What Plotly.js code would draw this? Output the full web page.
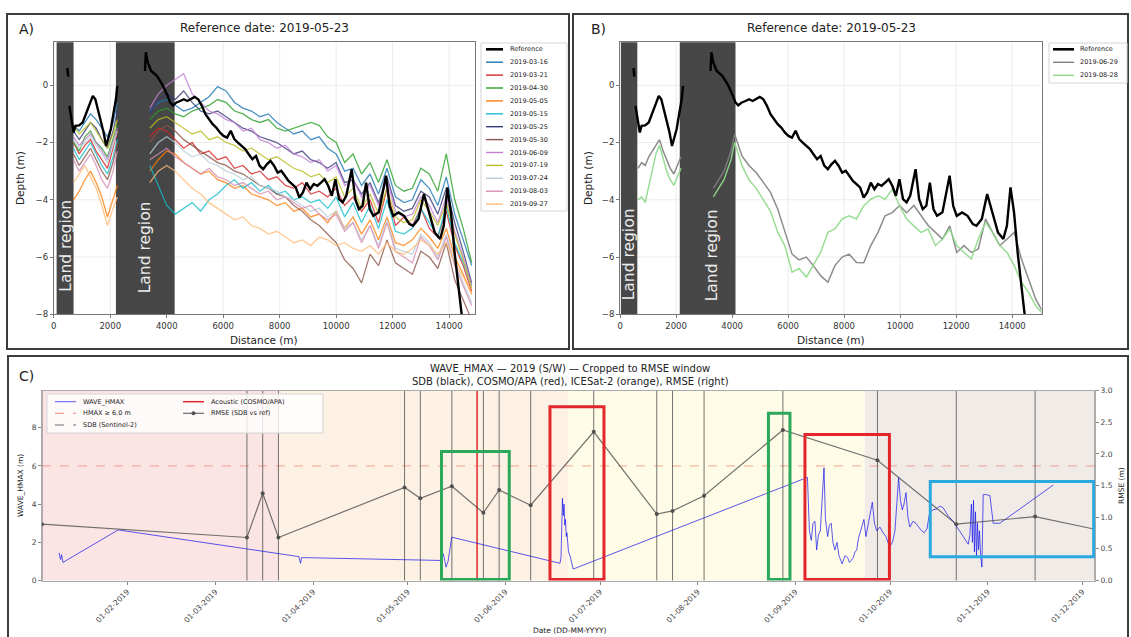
<!DOCTYPE html>
<html><head><meta charset="utf-8">
<script src="https://cdn.plot.ly/plotly-3.0.1.min.js"></script>
<style>html,body{margin:0;padding:0;background:#fff}#chart{width:1131px;height:637px}</style>
</head><body><div id="chart"></div>
<script>
// ---------------- DATA ----------------
const REFERENCE_DATE = '2019-05-23';
// Panel A/B: reference profile (depth vs distance)
const REF_X = [480,510,525,550,640,703,767,895,1023,1151,1279,1381,1471,1560,1663,1765,1854,1918,2020,2110,2200,2250,2600,3230,3260,3330,3450,3650,3840,4030,4118,4220,4348,4476,4604,4731,4859,4987,5115,5243,5371,5499,5627,5754,5882,6010,6138,6266,6394,6522,6650,6777,6905,7033,7161,7289,7417,7545,7673,7800,7928,8056,8184,8312,8440,8568,8696,8824,8951,9079,9207,9335,9463,9591,9719,9847,9974,10102,10230,10358,10550,10678,10806,10934,11061,11189,11317,11509,11765,11893,12020,12212,12404,12596,12724,12916,13107,13299,13491,13683,13811,13939,14066,14194,14322,14450,14514];
const REF_DEPTH = [0.6,0.3,null,-0.72,-1.3,-1.65,-1.42,-1.4,-1.3,-0.95,-0.6,-0.37,-0.49,-0.84,-1.3,-1.65,-2.12,-1.88,-1.53,-1.0,-0.49,-0.02,null,0.5,1.15,0.79,0.5,0.33,0.03,-0.37,-0.6,-0.7,-0.6,-0.55,-0.49,-0.55,-0.47,-0.41,-0.49,-0.72,-1.01,-1.19,-1.36,-1.48,-1.65,-1.77,-1.83,-1.59,-1.88,-2.0,-2.12,-2.23,-2.41,-2.58,-2.47,-2.81,-2.93,-2.76,-2.64,-2.81,-3.05,-2.99,-3.16,-3.34,-3.45,-3.57,-3.92,-3.74,-3.4,-3.63,-3.45,-3.51,-3.4,-3.28,-3.51,-3.86,-3.28,-3.98,-4.09,-3.86,-2.93,-3.98,-4.33,-4.21,-3.4,-4.33,-4.56,-4.44,-3.16,-4.21,-4.56,-4.44,-4.56,-4.85,-4.91,-4.67,-3.8,-4.44,-5.14,-5.37,-4.91,-3.57,-4.44,-5.84,-6.88,-8.0,-8.6];

// Panel A: SDB profiles
const DIST_A = [700,900,1100,1300,1500,1700,1900,2100,2250,2800,3400,3700,4000,4300,4600,4900,5200,5500,5800,6100,6400,6700,7000,7300,7600,7900,8200,8500,8800,9100,9400,9700,10000,10300,10600,10900,11200,11500,11800,12100,12400,12700,13000,13300,13600,13900,14200,14500,14800];
const A_DATES = ['2019-03-16','2019-03-21','2019-04-30','2019-05-05','2019-05-15','2019-05-25','2019-05-30','2019-06-09','2019-07-19','2019-07-24','2019-08-03','2019-09-27'];
const S_0316 = [-1.4,-1.6,-1.3,-1.0,-1.2,-1.5,-1.8,-1.3,-0.6,null,-0.9,-0.6,-0.5,-0.7,-0.9,-0.8,-0.6,-0.4,-0.05,-0.2,-0.6,-0.8,-0.9,-1.1,-1.0,-1.3,-1.5,-1.7,-1.6,-1.9,-1.8,-2.2,-2.4,-3.0,-2.9,-3.5,-3.1,-3.8,-2.9,-3.9,-4.1,-4.0,-3.3,-3.6,-4.2,-3.2,-4.5,-5.4,-6.3];
const S_0321 = [-2.0,-2.4,-2.1,-1.9,-2.3,-2.6,-2.9,-2.2,-1.6,null,-1.8,-1.5,-1.6,-1.9,-2.2,-2.0,-2.4,-2.3,-2.6,-2.5,-2.9,-2.8,-3.1,-3.0,-3.3,-3.2,-3.5,-3.6,-3.4,-3.8,-3.7,-3.9,-3.6,-4.2,-3.9,-4.4,-4.0,-4.8,-3.6,-4.9,-4.6,-4.9,-4.3,-5.0,-5.3,-4.4,-5.6,-6.3,-7.2];
const S_0430 = [-2.0,-2.3,-1.8,-1.6,-2.0,-2.2,-2.5,-1.9,-1.4,null,-1.2,-0.9,-0.8,-1.0,-1.1,-0.9,-0.8,-0.7,-0.5,-0.6,-0.9,-1.0,-1.2,-1.3,-1.2,-1.5,-1.6,-1.5,-1.4,-1.3,-1.4,-1.8,-2.0,-2.7,-2.4,-3.1,-2.7,-3.4,-2.6,-3.5,-3.7,-3.6,-2.9,-3.1,-3.7,-2.4,-4.0,-5.0,-6.2];
const S_0505 = [-4.0,-3.7,-3.3,-3.0,-3.4,-3.9,-4.6,-4.0,-3.5,null,-3.0,-2.6,-2.3,-2.4,-2.7,-2.9,-3.1,-3.0,-3.3,-3.4,-3.6,-3.5,-3.8,-3.9,-4.0,-4.2,-4.1,-4.4,-4.3,-4.6,-4.5,-4.8,-4.4,-5.0,-4.6,-5.2,-4.7,-5.4,-4.6,-5.5,-5.6,-5.4,-5.0,-5.3,-5.7,-5.0,-6.0,-6.6,-7.3];
const S_0515 = [-2.2,-2.6,-2.3,-2.0,-2.4,-2.8,-3.1,-2.5,-1.9,null,-2.8,-3.5,-4.2,-4.5,-4.3,-4.1,-4.4,-4.0,-3.8,-3.5,-3.3,-3.6,-3.4,-3.7,-3.5,-3.8,-3.7,-4.0,-3.9,-4.1,-4.0,-4.3,-3.9,-4.6,-4.1,-4.8,-4.2,-5.0,-4.0,-5.1,-5.2,-5.0,-4.3,-4.8,-5.3,-4.2,-5.5,-6.2,-7.0];
const S_0525 = [-1.6,-1.9,-1.6,-1.3,-1.5,-1.9,-2.2,-1.6,-0.9,null,-1.0,-0.5,-0.3,-0.5,-0.2,-0.6,-0.9,-1.0,-0.9,-1.1,-1.3,-1.5,-1.6,-1.8,-1.9,-2.0,-2.2,-2.4,-2.3,-2.6,-2.7,-2.9,-2.7,-3.4,-3.3,-3.8,-3.4,-4.1,-3.2,-4.2,-4.4,-4.3,-3.7,-3.9,-4.5,-3.6,-4.8,-5.8,-6.9];
const S_0530 = [-2.4,-2.8,-2.5,-2.2,-2.6,-3.0,-3.3,-2.7,-2.0,null,-2.0,-1.6,-1.4,-1.6,-1.9,-2.1,-2.3,-2.5,-2.7,-2.8,-3.0,-3.1,-3.3,-3.5,-3.6,-3.8,-3.9,-4.2,-4.4,-4.7,-4.9,-5.2,-5.5,-6.1,-6.4,-6.9,-5.9,-6.3,-5.4,-6.2,-6.4,-6.6,-5.8,-6.0,-6.4,-5.5,-6.8,-7.5,-8.2];
const S_0609 = [-1.8,-2.1,-1.9,-1.7,-2.0,-2.3,-2.6,-2.0,-1.5,null,-0.8,-0.3,0.0,0.2,0.4,-0.3,-0.6,-0.9,-1.0,-1.2,-1.3,-1.6,-1.5,-1.9,-2.0,-2.2,-2.1,-2.4,-2.5,-2.7,-2.6,-3.0,-2.8,-3.5,-3.3,-3.9,-3.5,-4.2,-3.3,-4.4,-4.6,-4.5,-3.9,-4.2,-4.8,-3.9,-5.1,-6.0,-7.0];
const S_0719 = [-1.4,-1.7,-1.5,-1.3,-1.6,-1.9,-2.2,-1.7,-1.2,null,-1.5,-1.2,-1.1,-1.3,-1.5,-1.7,-1.6,-1.9,-1.8,-2.0,-2.1,-2.3,-2.2,-2.4,-2.6,-2.5,-2.7,-2.9,-3.0,-3.2,-3.1,-3.4,-3.2,-3.9,-3.6,-4.3,-3.8,-4.5,-3.6,-4.6,-4.8,-4.7,-4.0,-4.4,-4.9,-4.1,-5.2,-6.1,-7.1];
const S_0724 = [-1.9,-2.2,-2.0,-1.8,-2.1,-2.4,-2.7,-2.1,-1.6,null,-2.4,-2.0,-1.8,-2.0,-2.3,-2.5,-2.4,-2.7,-2.8,-3.0,-3.1,-3.3,-3.2,-3.5,-3.6,-3.7,-3.9,-4.0,-4.2,-4.4,-4.3,-4.6,-4.4,-5.0,-4.8,-5.4,-4.9,-5.6,-4.7,-5.7,-5.8,-5.9,-5.2,-5.5,-6.0,-5.2,-6.2,-6.9,-7.6];
const S_0803 = [-2.6,-3.0,-2.7,-2.4,-2.8,-3.3,-3.6,-3.0,-2.3,null,-2.6,-2.4,-2.2,-2.5,-2.7,-2.9,-3.1,-2.9,-3.2,-3.3,-3.5,-3.4,-3.6,-3.8,-3.7,-4.0,-3.9,-4.1,-4.3,-4.2,-4.5,-4.7,-4.5,-5.1,-4.8,-5.5,-4.9,-5.7,-4.8,-5.8,-6.0,-6.2,-5.3,-5.6,-6.1,-5.3,-6.3,-7.0,-7.7];
const S_0927 = [-3.4,-3.1,-2.8,-3.2,-3.6,-4.2,-4.9,-4.3,-3.9,null,-3.4,-3.0,-2.8,-3.0,-3.3,-3.6,-3.8,-4.1,-4.3,-4.5,-4.7,-4.6,-4.9,-5.0,-5.2,-5.1,-5.3,-5.5,-5.4,-5.6,-5.3,-5.4,-5.6,-5.5,-5.7,-5.8,-5.6,-5.9,-5.5,-5.8,-5.9,-5.7,-5.4,-5.6,-5.9,-5.5,-6.2,-6.7,-7.3];

// Panel B: two SDB profiles
const DIST_B = [640,767,895,1023,1151,1279,1407,1535,1663,1791,1919,2046,2174,2700,3330,3710,3960,4090,4350,4600,4860,5110,5370,5630,5880,6140,6390,6650,6900,7160,7420,7670,7930,8180,8440,8700,8950,9210,9460,9720,9980,10230,10490,10740,11000,11260,11510,11770,12020,12280,12540,12790,13050,13300,13560,13820,14070,14330,14580,14840,15100];
const B_DATES = ['2019-06-29','2019-08-28'];
const S_0629 = [-2.9,-2.7,-2.8,-2.5,-2.3,-2.1,-1.9,-2.3,-2.6,-2.9,-3.1,-2.8,-2.5,null,-3.6,-3.0,-2.3,-1.7,-2.47,-2.8,-3.05,-3.4,-3.74,-4.33,-5.14,-5.9,-6.1,-6.0,-6.3,-6.65,-6.88,-6.3,-6.0,-5.9,-6.19,-6.2,-5.6,-5.14,-4.56,-4.45,-4.2,-4.45,-4.2,-4.56,-4.9,-5.14,-5.37,-4.91,-5.84,-5.6,-5.84,-5.72,-4.67,-5.14,-5.6,-5.37,-5.14,-6.07,-6.77,-7.47,-7.93];
const S_0828 = [-4.0,-3.9,-4.1,-3.5,-2.9,-2.4,-2.1,-2.6,-3.0,-3.3,-3.5,-3.2,-2.9,null,-3.9,-3.3,-2.6,-2.0,-2.8,-3.3,-3.6,-3.98,-4.4,-5.14,-5.6,-6.53,-6.4,-6.7,-6.3,-5.84,-5.14,-5.02,-4.67,-4.56,-4.67,-4.21,-3.98,-3.86,-3.98,-3.63,-4.21,-4.67,-4.91,-5.14,-5.02,-5.6,-5.37,-5.02,-5.6,-5.84,-6.07,-5.37,-4.79,-5.14,-5.6,-5.84,-6.3,-6.88,-7.23,-7.7,-8.0];

// Land regions (distance ranges)
const LAND_A_START = [100, 2200], LAND_A_END = [700, 4280];
const LAND_B_START = [30, 2130],  LAND_B_END = [615, 4120];
const DIST_TICKS = [0,2000,4000,6000,8000,10000,12000,14000];
const DEPTH_TICKS = [-8,-6,-4,-2,0];

// Panel C: wave height time series
const WAVE_TIME = ['2019-01-10 10:00','2019-01-10 21:00','2019-01-11 05:00','2019-01-11 16:00','2019-01-29 04:00',
'2019-03-27 12:00','2019-03-28 00:00','2019-03-28 08:00',
'2019-05-11 06:00','2019-05-12 07:00','2019-05-13 04:00','2019-05-13 19:00','2019-05-14 23:00',
'2019-06-18 07:00','2019-06-18 15:00','2019-06-19 02:00','2019-06-19 08:00','2019-06-19 14:00','2019-06-19 20:00','2019-06-20 01:00','2019-06-20 07:00','2019-06-20 12:00','2019-06-21 00:00','2019-06-21 11:00','2019-06-22 12:00',
'2019-09-04 19:00','2019-09-05 10:00','2019-09-06 00:00','2019-09-06 13:00','2019-09-07 04:00','2019-09-07 17:00','2019-09-08 07:00','2019-09-08 21:00','2019-09-09 09:00','2019-09-10 01:00',
'2019-09-10 12:00','2019-09-11 05:00','2019-09-11 18:00','2019-09-12 08:00','2019-09-12 21:00','2019-09-13 12:00','2019-09-14 04:00','2019-09-14 19:00','2019-09-15 19:00','2019-09-16 17:00',
'2019-09-17 13:00','2019-09-18 03:00','2019-09-18 17:00','2019-09-19 08:00','2019-09-19 21:00','2019-09-20 10:00','2019-09-20 23:00','2019-09-21 14:00','2019-09-22 04:00','2019-09-22 17:00',
'2019-09-23 08:00','2019-09-24 00:00','2019-09-24 19:00','2019-09-25 09:00','2019-09-26 01:00','2019-09-26 18:00','2019-09-27 19:00','2019-09-28 18:00','2019-09-29 17:00','2019-09-30 20:00',
'2019-10-01 18:00','2019-10-02 13:00','2019-10-03 17:00','2019-10-04 07:00','2019-10-04 21:00','2019-10-05 10:00','2019-10-06 01:00','2019-10-06 16:00','2019-10-07 07:00','2019-10-08 06:00',
'2019-10-09 05:00','2019-10-10 12:00','2019-10-11 19:00','2019-10-12 17:00','2019-10-13 12:00','2019-10-14 14:00','2019-10-15 18:00','2019-10-16 20:00','2019-10-17 21:00','2019-10-19 09:00',
'2019-10-21 01:00','2019-10-22 13:00','2019-10-24 05:00','2019-10-25 19:00','2019-10-26 08:00','2019-10-26 19:00','2019-10-27 03:00','2019-10-27 11:00','2019-10-27 18:00','2019-10-28 02:00',
'2019-10-28 10:00','2019-10-28 17:00','2019-10-29 01:00','2019-10-29 08:00','2019-10-29 18:00','2019-10-30 03:00','2019-10-30 13:00','2019-10-31 10:00','2019-11-01 16:00','2019-11-02 17:00',
'2019-11-04 20:00','2019-11-21 18:00'];
const WAVE_HMAX = [1.45,1.1,1.35,0.95,2.65,
1.25,0.9,1.2,
1.05,1.4,0.7,1.0,2.27,
0.9,1.2,4.3,3.4,4.0,2.9,3.2,2.3,2.5,1.5,1.3,0.6,
5.4,2.6,2.1,3.0,3.1,1.6,2.4,2.6,3.8,5.9,
3.2,2.3,2.9,3.0,2.0,1.6,2.0,1.3,0.87,1.3,
1.2,0.95,1.05,1.2,1.5,1.6,2.2,2.6,3.0,3.2,
2.3,2.9,3.6,4.1,3.0,2.6,2.8,2.5,2.3,1.75,
2.0,2.6,5.4,4.2,3.7,4.0,4.6,3.3,2.8,3.1,
3.0,2.7,2.5,2.7,3.5,3.7,3.75,3.9,3.8,3.4,
3.1,2.7,2.3,1.9,2.4,4.0,2.0,4.2,1.5,3.6,
1.2,3.0,1.6,2.6,1.3,0.7,4.5,4.5,4.45,3.0,
3.0,5.0];
const HMAX_THRESHOLD = 6.0;
// SDB acquisitions and their RMSE vs reference
const RMSE_DATE = ['2019-01-05','2019-03-11','2019-03-16','2019-03-21','2019-04-30','2019-05-05','2019-05-15','2019-05-25','2019-05-30','2019-06-09','2019-06-29','2019-07-19','2019-07-24','2019-08-03','2019-08-28','2019-09-27','2019-10-22','2019-11-16','2019-12-05'];
const RMSE_M = [0.89,0.68,1.38,0.68,1.47,1.30,1.49,1.07,1.43,1.19,2.35,1.05,1.10,1.34,2.38,1.90,0.89,1.01,0.81];
const ACOUSTIC_DATE = ['2019-05-23'];
// Seasons
const SEASON_START = ['2018-12-21','2019-03-21','2019-06-21','2019-09-23'];
const SEASON_END   = ['2019-03-21','2019-06-21','2019-09-23','2019-12-21'];
// Highlight windows
const BOX_START = ['2019-05-11 17:00','2019-06-15 03:00','2019-08-23 10:00','2019-09-04 00:00','2019-10-13 18:00'];
const BOX_END   = ['2019-06-02 05:00','2019-07-02 06:00','2019-08-30 06:00','2019-09-30 19:00','2019-12-04 14:00'];
const BOX_LOW   = [0.05, 0.05, 0.05, 0.05, 1.25];
const BOX_HIGH  = [6.75, 9.10, 8.76, 7.64, 5.18];

// ---------------- STYLE ----------------
const W = 1131, H = 637;
const PX = v => v / W, PY = v => 1 - v / H;
const FONT = 'DejaVu Sans, Arial, sans-serif';
const A_COLORS = ['#1f77b4','#d62728','#2ca02c','#ff7f0e','#17becf','#393b79','#8c564b','#c47fd5','#bcbd22','#b9cfd8','#d68fb4','#ffbb78'];
const B_COLORS = ['#7f7f7f','#8fd98a'];
const SEASON_COLORS = ['#fbe4e4','#fdf1e4','#fefbe6','#f1ebe8'];
const BOX_COLORS = ['#2ca85a','#e3262b','#2ca85a','#e3262b','#2aa9de'];

const traces = [];
const A_SERIES = [S_0316,S_0321,S_0430,S_0505,S_0515,S_0525,S_0530,S_0609,S_0719,S_0724,S_0803,S_0927];
A_SERIES.forEach((s,i)=>traces.push({x:DIST_A,y:s,xaxis:'x',yaxis:'y',mode:'lines',name:A_DATES[i],
  line:{color:A_COLORS[i],width:1.3},opacity:0.8,showlegend:false}));
traces.push({x:REF_X,y:REF_DEPTH,xaxis:'x',yaxis:'y',mode:'lines',name:'Reference',line:{color:'#000',width:2.4},showlegend:false});
[S_0629,S_0828].forEach((s,i)=>traces.push({x:DIST_B,y:s,xaxis:'x2',yaxis:'y2',mode:'lines',name:B_DATES[i],
  line:{color:B_COLORS[i],width:1.5},opacity:0.9,showlegend:false}));
traces.push({x:REF_X,y:REF_DEPTH,xaxis:'x2',yaxis:'y2',mode:'lines',name:'Reference',line:{color:'#000',width:2.4},showlegend:false});
traces.push({x:WAVE_TIME,y:WAVE_HMAX,xaxis:'x3',yaxis:'y3',mode:'lines',name:'WAVE_HMAX',line:{color:'rgba(20,20,235,0.7)',width:1},showlegend:false});
traces.push({x:RMSE_DATE,y:RMSE_M,xaxis:'x3',yaxis:'y4',mode:'lines+markers',name:'RMSE (SDB vs ref)',
  line:{color:'rgba(70,70,70,0.75)',width:1.2},marker:{size:4,color:'#505050'},showlegend:false});

const shapes = [], annotations = [];
// grid for A and B (below the land bands)
[['x','y'],['x2','y2']].forEach(ax=>{
  DIST_TICKS.forEach(t=>shapes.push({type:'line',xref:ax[0],yref:ax[1]+' domain',x0:t,x1:t,y0:0,y1:1,line:{color:'#ececec',width:1},layer:'below'}));
  DEPTH_TICKS.forEach(t=>shapes.push({type:'line',xref:ax[0]+' domain',yref:ax[1],x0:0,x1:1,y0:t,y1:t,line:{color:'#ececec',width:1},layer:'below'}));
});
// land bands
function land(xa, ya, starts, ends){ starts.forEach((s,i)=>shapes.push({type:'rect',xref:xa,yref:ya+' domain',x0:s,x1:ends[i],y0:0,y1:1,fillcolor:'#474747',line:{width:0},layer:'below'})); }
land('x','y',LAND_A_START,LAND_A_END); land('x2','y2',LAND_B_START,LAND_B_END);
// seasons
SEASON_START.forEach((s,i)=>shapes.push({type:'rect',xref:'x3',yref:'y3 domain',x0:s,x1:SEASON_END[i],y0:0,y1:1,fillcolor:SEASON_COLORS[i],line:{width:0},layer:'below'}));
// threshold
shapes.push({type:'line',xref:'x3 domain',yref:'y3',x0:0,x1:1,y0:HMAX_THRESHOLD,y1:HMAX_THRESHOLD,line:{color:'rgba(235,110,90,0.6)',width:1,dash:'dash'},layer:'below'});
// SDB dates
RMSE_DATE.forEach(d=>shapes.push({type:'line',xref:'x3',yref:'y3 domain',x0:d,x1:d,y0:0,y1:1,line:{color:'rgba(70,70,70,0.75)',width:1},layer:'below'}));
ACOUSTIC_DATE.forEach(d=>shapes.push({type:'line',xref:'x3',yref:'y3 domain',x0:d,x1:d,y0:0,y1:1,line:{color:'#e02828',width:1.5},layer:'below'}));
// highlight boxes
BOX_START.forEach((s,i)=>shapes.push({type:'rect',xref:'x3',yref:'y3',x0:s,x1:BOX_END[i],y0:BOX_LOW[i],y1:BOX_HIGH[i],line:{color:BOX_COLORS[i],width:3},fillcolor:'rgba(0,0,0,0)',layer:'above'}));

// panel frames
function frame(x0,y0,x1,y1){ shapes.push({type:'rect',xref:'paper',yref:'paper',x0:PX(x0),x1:PX(x1),y0:PY(y1),y1:PY(y0),line:{color:'#3c3c3c',width:2},fillcolor:'rgba(0,0,0,0)',layer:'above'}); }
frame(7,14,569,349); frame(573,14,1128,349); frame(8,356,1128,650);

function txt(x,y,text,size,extra){ annotations.push(Object.assign({xref:'paper',yref:'paper',x:PX(x),y:PY(y),text:text,showarrow:false,
  font:{size:size,color:'#222',family:FONT},xanchor:'center',yanchor:'middle'},extra||{})); }
function pline(x0,y0,x1,y1,color,width,dash){ shapes.push({type:'line',xref:'paper',yref:'paper',x0:PX(x0),y0:PY(y0),x1:PX(x1),y1:PY(y1),line:{color:color,width:width,dash:dash||'solid'},layer:'above'}); }
function pbox(x0,y0,x1,y1,fill){ shapes.push({type:'rect',xref:'paper',yref:'paper',x0:PX(x0),x1:PX(x1),y0:PY(y1),y1:PY(y0),line:{color:'#d4d4d4',width:1},fillcolor:fill,layer:'above'}); }

// Panel labels and titles
txt(27,29,'A)',14); txt(598,29,'B)',14); txt(26,376,'C)',14);
txt(264,28,'Reference date: '+REFERENCE_DATE,12);
txt(831,28,'Reference date: '+REFERENCE_DATE,12);
txt(264,340,'Distance (m)',10.5); txt(831,340,'Distance (m)',10.5);
txt(20,178,'Depth (m)',10.5,{textangle:-90}); txt(588,178,'Depth (m)',10.5,{textangle:-90});
txt(570,369,'WAVE_HMAX — 2019 (S/W) — Cropped to RMSE window',10);
txt(570,381,'SDB (black), COSMO/APA (red), ICESat-2 (orange), RMSE (right)',10);
txt(20,486,'WAVE_HMAX (m)',7.5,{textangle:-90});
txt(1121,486,'RMSE (m)',7.5,{textangle:-90});
txt(570,630,'Date (DD-MM-YYYY)',7.5);
// Land region labels (data coords)
[['x','y',400,-5.6],['x','y',3240,-5.65],['x2','y2',322,-5.9],['x2','y2',3270,-5.95]].forEach(a=>annotations.push({xref:a[0],yref:a[1],x:a[2],y:a[3],text:'Land region',textangle:-90,showarrow:false,font:{size:15.5,color:'#ececec',family:FONT}}));

// Legend A
pbox(481,43,567,211,'rgba(255,255,255,0.9)');
['Reference'].concat(A_DATES).forEach((n,i)=>{ const y=49.3+12.9*i;
  pline(486,y,503,y,i===0?'#000':A_COLORS[i-1],i===0?2.6:1.4);
  txt(508,y,n,6.5,{xanchor:'left'}); });
// Legend B
pbox(1049,43,1127,83,'rgba(255,255,255,0.9)');
['Reference'].concat(B_DATES).forEach((n,i)=>{ const y=49.3+13*i;
  pline(1053,y,1074,y,i===0?'#000':B_COLORS[i-1],i===0?2.6:1.4);
  txt(1078,y,n,6.5,{xanchor:'left'}); });
// Legend C
pbox(47,394,323,433,'rgba(255,255,255,0.8)');
pline(55,401.7,76,401.7,'rgba(20,20,235,0.7)',1); txt(81,401.7,'WAVE_HMAX',6.5,{xanchor:'left'});
pline(55,413.3,76,413.3,'rgba(235,110,90,0.8)',1,'dash'); txt(81,413.3,'HMAX ≥ 6.0 m',6.5,{xanchor:'left'});
pline(55,425,76,425,'rgba(70,70,70,0.8)',1,'dash'); txt(81,425,'SDB (Sentinel-2)',6.5,{xanchor:'left'});
pline(183,401.7,204,401.7,'#e02828',1.5); txt(209,401.7,'Acoustic (COSMO/APA)',6.5,{xanchor:'left'});
pline(183,413.3,204,413.3,'rgba(70,70,70,0.8)',1.2);
shapes.push({type:'circle',xref:'paper',yref:'paper',x0:PX(191.5),x1:PX(195.5),y0:PY(415.3),y1:PY(411.3),fillcolor:'#505050',line:{width:0},layer:'above'});
txt(209,413.3,'RMSE (SDB vs ref)',6.5,{xanchor:'left'});

const axAB = {showline:true,mirror:true,linecolor:'#777',linewidth:1,showgrid:false,zeroline:false,
  ticks:'outside',ticklen:3,tickcolor:'#777',tickfont:{size:8.5,color:'#333',family:FONT},automargin:false,fixedrange:true};
const layout = {
  width:W,height:H,margin:{l:0,r:0,t:0,b:0},paper_bgcolor:'#fff',plot_bgcolor:'#fff',
  font:{family:FONT},showlegend:false,
  xaxis:Object.assign({},axAB,{domain:[PX(53.8),PX(474.5)],range:[0,14900],anchor:'y',tickvals:DIST_TICKS,tickformat:'d'}),
  yaxis:Object.assign({},axAB,{domain:[PY(314.3),PY(42.3)],range:[-8,1.5],anchor:'x',tickvals:DEPTH_TICKS}),
  xaxis2:Object.assign({},axAB,{domain:[PX(620.1),PX(1041.6)],range:[0,15050],anchor:'y2',tickvals:DIST_TICKS,tickformat:'d'}),
  yaxis2:Object.assign({},axAB,{domain:[PY(314.3),PY(42.3)],range:[-8,1.5],anchor:'x2',tickvals:DEPTH_TICKS}),
  xaxis3:{type:'date',domain:[PX(42),PX(1095)],range:['2019-01-05','2019-12-05'],anchor:'y3',dtick:'M1',tick0:'2019-01-01',
    tickformat:'%d-%m-%Y',tickangle:-45,showline:true,mirror:true,linecolor:'#aaa',showgrid:false,zeroline:false,
    ticks:'outside',ticklen:3,tickcolor:'#888',tickfont:{size:7.5,color:'#444',family:FONT},automargin:false,fixedrange:true},
  yaxis3:{domain:[PY(580.5),PY(390.7)],range:[0,9.94],anchor:'x3',dtick:2,tick0:0,showline:true,mirror:true,linecolor:'#aaa',
    showgrid:false,zeroline:false,ticks:'outside',ticklen:3,tickcolor:'#888',tickfont:{size:7.5,color:'#444',family:FONT},automargin:false,fixedrange:true},
  yaxis4:{overlaying:'y3',side:'right',anchor:'x3',range:[0,3],dtick:0.5,tick0:0,tickformat:'.1f',showgrid:false,zeroline:false,showline:false,
    ticks:'outside',ticklen:3,tickcolor:'#888',tickfont:{size:7.5,color:'#444',family:FONT},automargin:false,fixedrange:true},
  shapes:shapes,annotations:annotations
};
Plotly.newPlot('chart',traces,layout,{staticPlot:true,displayModeBar:false});
</script></body></html>
